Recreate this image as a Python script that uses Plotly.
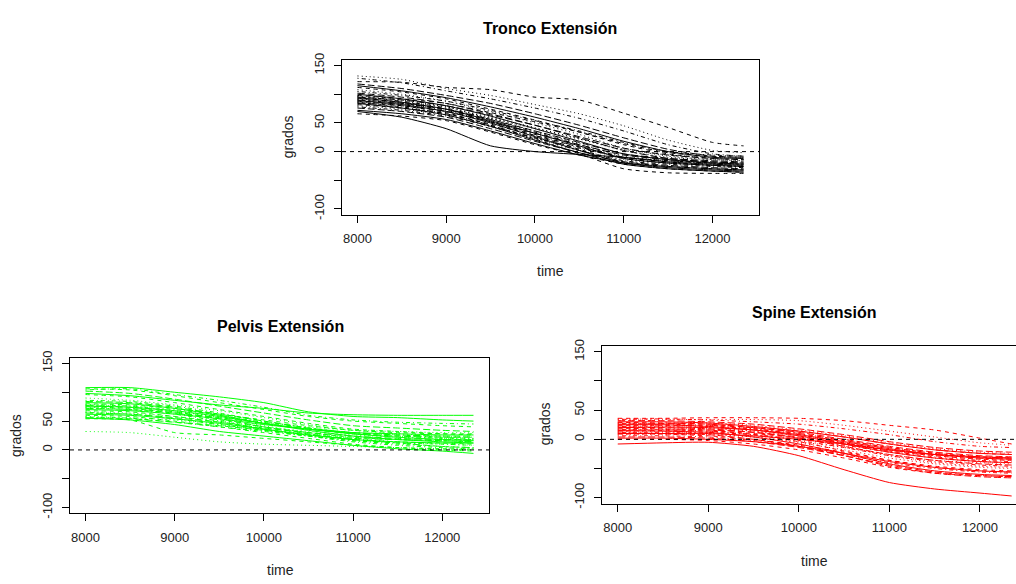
import plotly.graph_objects as go

# ---------------- data ----------------
time = [8000, 8500, 9000, 9500, 10000, 10500, 11000, 11500, 12000, 12350]

tronco = [
    [70, 60, 40, 10, 0, -5, -10, -18, -22, -24],
    [122, 121, 112, 108, 95, 90, 67, 42, 16, 10],
    [132, 126, 110, 98, 82, 66, 45, 20, 2, -2],
    [128, 120, 106, 92, 76, 58, 36, 12, -4, -8],
    [118, 110, 98, 84, 66, 46, 24, 4, -8, -10],
    [115, 106, 94, 78, 60, 40, 18, 0, -10, -12],
    [112, 104, 92, 74, 55, 34, 12, -4, -12, -14],
    [108, 100, 88, 70, 50, 30, 6, -8, -14, -16],
    [105, 98, 88, 72, 54, 36, 16, 0, -6, -8],
    [102, 95, 84, 66, 46, 24, 2, -12, -18, -20],
    [100, 92, 80, 62, 40, 18, -4, -14, -20, -22],
    [98, 92, 84, 68, 52, 34, 14, -2, -8, -10],
    [97, 90, 78, 58, 36, 14, -8, -16, -22, -24],
    [96, 88, 76, 56, 34, 12, -10, -18, -24, -26],
    [95, 90, 80, 64, 46, 26, 6, -6, -12, -14],
    [94, 86, 74, 54, 32, 10, -12, -20, -24, -26],
    [93, 86, 74, 52, 28, 4, -18, -26, -30, -32],
    [92, 86, 78, 60, 42, 22, 2, -10, -14, -16],
    [91, 84, 72, 52, 30, 8, -12, -20, -24, -26],
    [90, 84, 74, 56, 36, 16, -4, -12, -16, -18],
    [89, 82, 70, 50, 26, 2, -20, -28, -32, -34],
    [88, 80, 68, 46, 22, -4, -30, -37, -38, -38],
    [87, 82, 74, 58, 40, 22, 4, -6, -10, -12],
    [86, 78, 66, 46, 24, 2, -16, -22, -26, -28],
    [85, 80, 70, 52, 32, 12, -6, -14, -18, -20],
    [84, 76, 64, 44, 20, -2, -22, -30, -34, -36],
    [82, 76, 66, 48, 28, 8, -10, -16, -20, -22],
    [80, 74, 64, 44, 22, 2, -14, -20, -24, -26],
    [78, 72, 62, 44, 24, 6, -10, -16, -20, -22],
    [76, 70, 60, 40, 18, -2, -18, -24, -28, -30],
    [72, 66, 56, 36, 14, -6, -20, -26, -30, -32],
    [66, 62, 54, 34, 12, -6, -22, -30, -34, -36],
]

pelvis = [
    [98, 94, 86, 78, 72, 64, 61, 60, 60, 60],
    [106, 104, 94, 82, 70, 58, 50, 46, 42, 40],
    [32, 30, 22, 14, 10, 8, 6, 4, 2, 2],
    [104, 106, 96, 86, 74, 60, 52, 48, 46, 45],
    [102, 98, 88, 76, 64, 52, 42, 38, 34, 32],
    [108, 108, 100, 92, 82, 66, 58, 56, 52, 50],
    [96, 92, 82, 70, 58, 46, 36, 32, 28, 26],
    [90, 86, 78, 68, 56, 44, 34, 28, 24, 22],
    [86, 84, 76, 64, 50, 38, 28, 24, 20, 18],
    [84, 82, 74, 62, 50, 38, 30, 26, 24, 24],
    [82, 80, 72, 60, 46, 34, 24, 18, 14, 12],
    [80, 78, 72, 62, 52, 42, 34, 30, 28, 28],
    [79, 76, 68, 56, 42, 30, 20, 14, 10, 8],
    [78, 76, 70, 60, 48, 38, 30, 26, 22, 20],
    [77, 74, 66, 54, 40, 28, 18, 12, 6, 4],
    [76, 74, 68, 58, 46, 36, 28, 22, 18, 16],
    [75, 72, 64, 52, 40, 30, 22, 18, 16, 14],
    [74, 72, 66, 58, 48, 40, 34, 32, 30, 30],
    [73, 70, 62, 50, 36, 24, 14, 8, 4, 2],
    [72, 70, 64, 56, 46, 36, 28, 24, 22, 22],
    [70, 68, 62, 54, 44, 36, 30, 28, 26, 26],
    [68, 66, 58, 48, 36, 26, 18, 14, 12, 10],
    [66, 64, 58, 50, 40, 32, 26, 22, 20, 20],
    [65, 62, 54, 44, 34, 24, 16, 10, 6, 4],
    [64, 62, 56, 48, 38, 30, 24, 20, 18, 18],
    [62, 60, 54, 46, 36, 26, 18, 14, 12, 12],
    [60, 58, 50, 40, 30, 20, 10, 4, 0, -2],
    [58, 56, 52, 44, 36, 28, 22, 18, 16, 16],
    [57, 55, 48, 40, 32, 24, 16, 12, 10, 8],
    [56, 54, 48, 42, 34, 26, 20, 18, 16, 14],
    [55, 52, 44, 32, 24, 16, 8, 2, -2, -6],
    [54, 52, 30, 26, 20, 14, 8, 4, 2, 0],
]

spine = [
    [-8, -6, -5, -12, -28, -52, -74, -85, -92, -97],
    [36, 36, 37, 37, 36, 32, 24, 16, 2, -8],
    [35, 34, 34, 34, 32, 24, 14, 4, -6, -10],
    [34, 35, 33, 30, 26, 18, 8, -4, -12, -14],
    [32, 32, 30, 26, 18, 8, -4, -14, -20, -22],
    [30, 30, 28, 22, 14, 4, -8, -18, -24, -26],
    [29, 28, 26, 20, 10, -2, -14, -24, -30, -32],
    [28, 28, 28, 24, 16, 6, -6, -16, -22, -24],
    [27, 26, 24, 18, 8, -6, -20, -30, -36, -38],
    [26, 27, 26, 20, 12, 0, -12, -22, -28, -30],
    [25, 25, 22, 16, 6, -8, -22, -32, -38, -40],
    [24, 24, 24, 20, 14, 4, -8, -18, -24, -26],
    [23, 22, 20, 14, 2, -12, -28, -40, -46, -48],
    [22, 23, 22, 18, 10, -2, -14, -24, -30, -32],
    [21, 20, 18, 12, 2, -12, -26, -36, -42, -44],
    [20, 21, 20, 16, 8, -4, -16, -26, -32, -34],
    [19, 18, 16, 8, -4, -20, -36, -48, -54, -56],
    [18, 18, 18, 14, 6, -6, -18, -28, -34, -36],
    [17, 17, 14, 8, -2, -14, -28, -38, -44, -46],
    [16, 16, 16, 12, 4, -6, -18, -26, -32, -34],
    [15, 14, 12, 4, -8, -24, -42, -54, -60, -62],
    [14, 15, 14, 10, 2, -8, -20, -28, -34, -36],
    [13, 13, 10, 4, -6, -18, -32, -42, -48, -50],
    [12, 12, 12, 8, 0, -10, -22, -32, -38, -40],
    [11, 10, 8, 0, -12, -28, -46, -58, -64, -66],
    [10, 10, 10, 6, 0, -8, -18, -26, -30, -32],
    [9, 9, 6, 0, -10, -22, -36, -46, -52, -54],
    [8, 8, 8, 4, -4, -14, -26, -36, -40, -42],
    [6, 6, 4, -2, -12, -26, -40, -50, -56, -58],
    [4, 4, 2, -4, -14, -28, -44, -56, -62, -64],
    [2, 2, 0, -4, -12, -24, -38, -48, -54, -56],
    [0, 0, -2, -8, -18, -32, -48, -58, -62, -64],
]

titles = ["Tronco Extensión", "Pelvis Extensión", "Spine Extensión"]
colors = ["#000000", "#00FF00", "#FF0000"]
x_ticks = [8000, 9000, 10000, 11000, 12000]
x_tick_labels = ["8000", "9000", "10000", "11000", "12000"]
y_ticks = [-100, -50, 0, 50, 100, 150]
y_tick_labels = ["-100", "", "0", "50", "", "150"]
x_label = "time"
y_label = "grados"

# ---------------- styling / layout ----------------
W, H = 1016, 584
FONT = "Liberation Sans, Arial, Helvetica, sans-serif"
dashes = ["solid", "4px,4px", "1px,3px", "1px,3px,4px,3px", "7px,3px"]

panels = [
    dict(box=(342, 759, 54, 212), xr=[7826, 12524], mirror_y=True,
         title=(550, 22), xlab=(550, 270), ylab=(288, 133)),
    dict(box=(70, 489, 358, 517), xr=[7826, 12524], mirror_y=True,
         title=(280, 326), xlab=(280, 575), ylab=(16, 438)),
    dict(box=(602, 1016, 346, 507), xr=[7826, 12398], mirror_y=False,
         title=(814, 312), xlab=(814, 566), ylab=(545, 426)),
]
datasets = [tronco, pelvis, spine]

fig = go.Figure()
annotations = []
shapes = []
layout = dict(width=W, height=H, autosize=False,
              margin=dict(l=0, r=0, t=0, b=0),
              paper_bgcolor="white", plot_bgcolor="white",
              showlegend=False, font=dict(family=FONT, color="#000000"))

for k, (p, data) in enumerate(zip(panels, datasets)):
    sfx = "" if k == 0 else str(k + 1)
    xa, ya = "x" + sfx, "y" + sfx
    l, r, t, b = p["box"]
    for i, series in enumerate(data):
        fig.add_trace(go.Scatter(
            x=time, y=series, mode="lines", xaxis=xa, yaxis=ya,
            line=dict(color=colors[k], width=1, dash=dashes[i % 5],
                      shape="spline", smoothing=0.6),
            hoverinfo="skip"))
    layout["xaxis" + sfx] = dict(
        domain=[l / W, r / W], range=p["xr"], anchor=ya,
        tickvals=x_ticks, ticktext=x_tick_labels,
        ticks="outside", ticklen=7, tickcolor="#000",
        showline=True, linecolor="#000", linewidth=1, mirror=True,
        showgrid=False, zeroline=False, ticklabelstandoff=5,
        tickfont=dict(size=13, family=FONT, color="#222"))
    layout["yaxis" + sfx] = dict(
        domain=[1 - b / H, 1 - t / H], range=[-110, 160], anchor=xa,
        tickvals=y_ticks, ticktext=y_tick_labels, tickangle=-90,
        ticks="outside", ticklen=7, tickcolor="#000",
        showline=True, linecolor="#000", linewidth=1, mirror=p["mirror_y"],
        showgrid=False, zeroline=False, ticklabelstandoff=5,
        tickfont=dict(size=13, family=FONT, color="#222"))
    shapes.append(dict(type="line", xref=xa + " domain", yref=ya,
                       x0=0, x1=1, y0=0, y1=0,
                       line=dict(color="#000", width=1, dash="4px,4px")))
    tx, ty = p["title"]
    annotations.append(dict(text="<b>" + titles[k] + "</b>", x=tx / W, y=1 - ty / H,
                            xref="paper", yref="paper", showarrow=False,
                            xanchor="center", yanchor="middle",
                            font=dict(size=16, family=FONT, color="#000")))
    lx, ly = p["xlab"]
    annotations.append(dict(text=x_label, x=lx / W, y=1 - ly / H,
                            xref="paper", yref="paper", showarrow=False,
                            xanchor="center", yanchor="middle",
                            font=dict(size=14, family=FONT, color="#222")))
    gx, gy = p["ylab"]
    annotations.append(dict(text=y_label, x=gx / W, y=1 - gy / H, textangle=-90,
                            xref="paper", yref="paper", showarrow=False,
                            xanchor="center", yanchor="middle",
                            font=dict(size=14, family=FONT, color="#222")))

layout["annotations"] = annotations
layout["shapes"] = shapes
fig.update_layout(**layout)
fig.write_html("out.html")
